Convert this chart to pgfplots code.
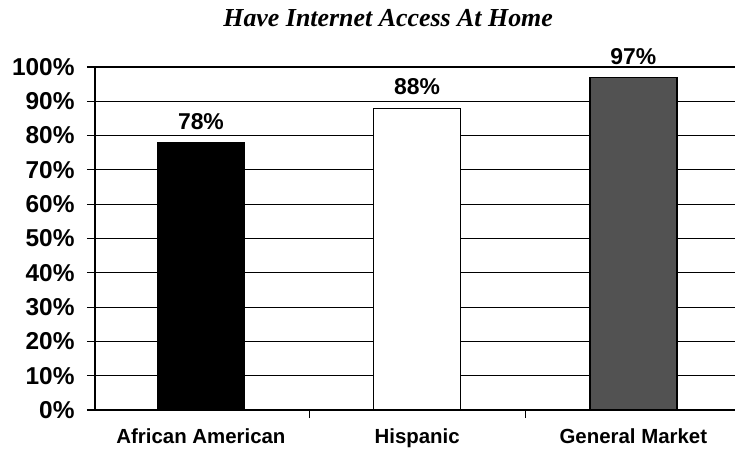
\documentclass[border=0pt]{standalone}
\usepackage{pgfplots}
\pgfplotsset{compat=1.18}
\usepackage{fontspec}
\setmainfont{Liberation Sans}
\newfontfamily\titlefont{Liberation Serif}
\begin{document}
\begin{tikzpicture}
\useasboundingbox (-95bp,-45bp) rectangle (640bp,410bp);
\begin{axis}[
  scale only axis,
  width=640bp, height=343bp,
  at={(0,0)}, anchor=south west,
  clip=false,
  ymin=0, ymax=100,
  xmin=-0.49, xmax=2.47,
  axis x line*=bottom, axis y line*=left,
  axis line style={-, black, line width=1.1pt},
  ytick={0,10,...,100},
  yticklabel={\pgfmathprintnumber{\tick}\%},
  /pgf/number format/assume math mode=true,
  ymajorgrids,
  grid style={black, line width=1.1pt},
  tick align=outside,
  major tick length=8bp,
  tick style={black, line width=1.1pt},
  y tick label style={font=\bfseries\fontsize{24.5}{26}\selectfont, xshift=-9bp},
  xtick={0.5,1.5},
  xticklabels={},
  extra x ticks={0,1,2},
  extra x tick labels={African American,Hispanic,General Market},
  extra x tick style={major tick length=0pt, grid=none,
     tick label style={font=\bfseries\fontsize{20.5}{23}\selectfont, yshift=-15bp}},
  bar width=87bp,
  nodes near coords={\pgfmathprintnumber{\pgfplotspointmeta}\%},
  every node near coord/.append style={font=\bfseries\fontsize{23}{25}\selectfont, anchor=south, yshift=9bp, black},
]
\addplot[ybar, fill=black, draw=black, line width=1pt] coordinates {(0,78)};
\addplot[ybar, fill=white, draw=black, line width=1.3pt] coordinates {(1,88)};
\addplot[ybar, fill=black!68, draw=black, line width=1.3pt] coordinates {(2,97)};
\node[font=\titlefont\bfseries\itshape\fontsize{26}{28}\selectfont, anchor=base] at (rel axis cs:0.458,1) [yshift=40bp] {Have Internet Access At Home};
\end{axis}
\end{tikzpicture}
\end{document}
